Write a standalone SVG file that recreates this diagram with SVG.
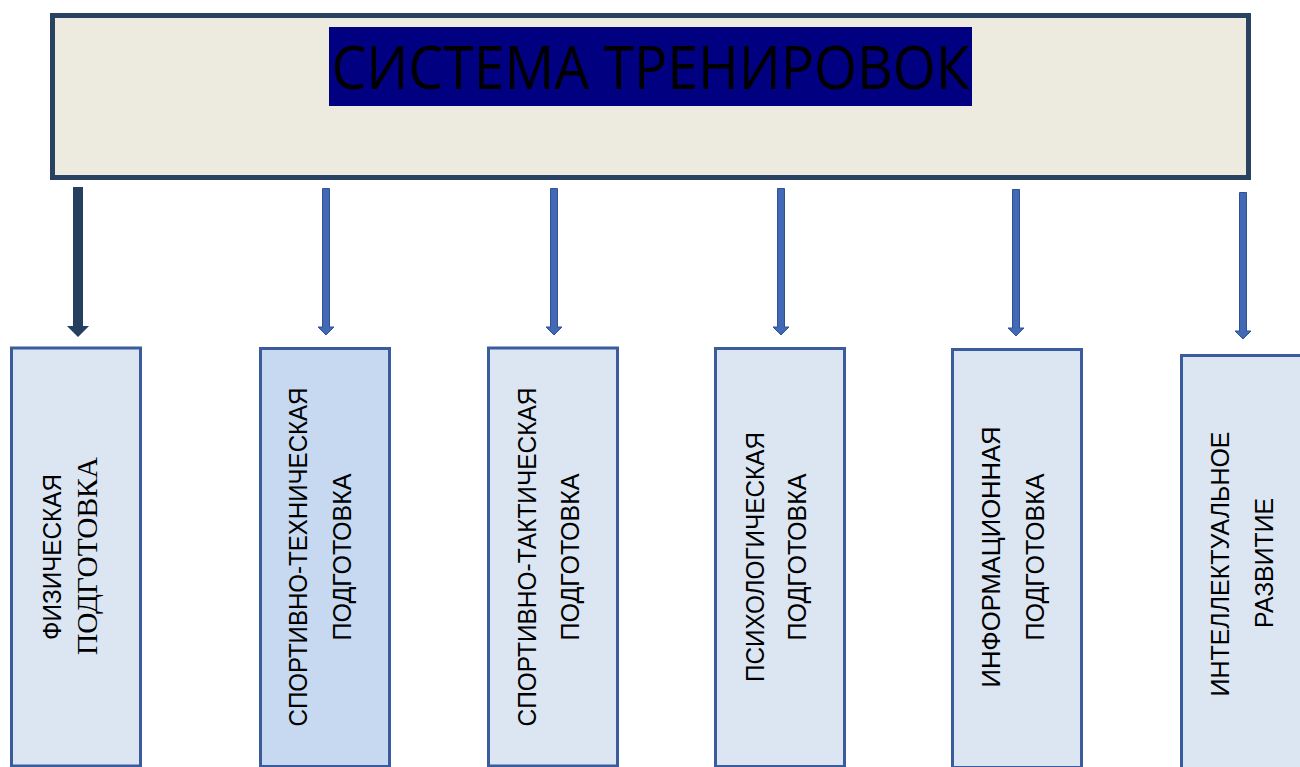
<svg xmlns="http://www.w3.org/2000/svg" width="1300" height="767" viewBox="0 0 1300 767">
<style>
.box{fill:#DCE6F2;stroke:#3A5C9C;stroke-width:3}
.box2{fill:#C6D9F1}
.lbl{font-family:"Liberation Sans",Arial,sans-serif;font-size:25px;fill:#000}
.ser{font-family:"Liberation Serif","Times New Roman",serif;font-size:29px;fill:#000}
.arr{fill:#4169B5;stroke:#2F5192;stroke-width:1}
</style>
<rect width="1300" height="767" fill="#fff"/>
<g id="top">
<rect x="52.5" y="15.5" width="1196" height="162" fill="#EDEBE0" stroke="#2A4262" stroke-width="5"/>
<rect x="329" y="27" width="643" height="79" fill="#000080"/>
<text x="650.5" y="89" text-anchor="middle" font-family="'Open Sans','Noto Sans',sans-serif" font-size="60" fill="#000" textLength="638" lengthAdjust="spacingAndGlyphs">СИСТЕМА ТРЕНИРОВОК</text>
</g>
<g id="connectors">
<polygon points="73,187 83,187 83,326 89,326 78,337 67,326 73,326" fill="#243F60"/>
<polygon class="arr" points="322.5,188.5 329.5,188.5 329.5,327 334,327 326,335 318,327 322.5,327"/>
<polygon class="arr" points="550.5,188.5 557.5,188.5 557.5,327 562,327 554,335 546,327 550.5,327"/>
<polygon class="arr" points="777.5,188.5 784.5,188.5 784.5,327 789,327 781,335 773,327 777.5,327"/>
<polygon class="arr" points="1012.5,189.5 1019.5,189.5 1019.5,328 1024,328 1016,336 1008,328 1012.5,328"/>
<polygon class="arr" points="1239.5,192.5 1246.5,192.5 1246.5,331 1251,331 1243,339 1235,331 1239.5,331"/>
</g>
<g id="n1">
<rect class="box" x="11.5" y="348" width="129" height="418"/>
<text class="lbl" transform="translate(52,557) rotate(-90)" y="9" text-anchor="middle" textLength="166" lengthAdjust="spacingAndGlyphs">ФИЗИЧЕСКАЯ</text>
<text class="ser" transform="translate(87,556) rotate(-90)" y="10" text-anchor="middle" textLength="198" lengthAdjust="spacingAndGlyphs">ПОДГОТОВКА</text>
</g>
<g id="n2">
<rect class="box box2" x="260.5" y="348.5" width="129" height="418"/>
<text class="lbl" transform="translate(298,557) rotate(-90)" y="9" text-anchor="middle" textLength="339" lengthAdjust="spacingAndGlyphs">СПОРТИВНО-ТЕХНИЧЕСКАЯ</text>
<text class="lbl" transform="translate(342,557) rotate(-90)" y="9" text-anchor="middle" textLength="167" lengthAdjust="spacingAndGlyphs">ПОДГОТОВКА</text>
</g>
<g id="n3">
<rect class="box" x="488.5" y="348" width="129" height="418"/>
<text class="lbl" transform="translate(527,557) rotate(-90)" y="9" text-anchor="middle" textLength="339" lengthAdjust="spacingAndGlyphs">СПОРТИВНО-ТАКТИЧЕСКАЯ</text>
<text class="lbl" transform="translate(570,557) rotate(-90)" y="9" text-anchor="middle" textLength="167" lengthAdjust="spacingAndGlyphs">ПОДГОТОВКА</text>
</g>
<g id="n4">
<rect class="box" x="715.5" y="348.5" width="129" height="418"/>
<text class="lbl" transform="translate(755,557) rotate(-90)" y="9" text-anchor="middle" textLength="250" lengthAdjust="spacingAndGlyphs">ПСИХОЛОГИЧЕСКАЯ</text>
<text class="lbl" transform="translate(797,557) rotate(-90)" y="9" text-anchor="middle" textLength="167" lengthAdjust="spacingAndGlyphs">ПОДГОТОВКА</text>
</g>
<g id="n5">
<rect class="box" x="952.5" y="349.5" width="129" height="418"/>
<text class="lbl" transform="translate(991,557) rotate(-90)" y="9" text-anchor="middle" textLength="261" lengthAdjust="spacingAndGlyphs">ИНФОРМАЦИОННАЯ</text>
<text class="lbl" transform="translate(1035,557) rotate(-90)" y="9" text-anchor="middle" textLength="167" lengthAdjust="spacingAndGlyphs">ПОДГОТОВКА</text>
</g>
<g id="n6">
<rect class="box" x="1181.5" y="355.5" width="129" height="418"/>
<text class="lbl" transform="translate(1220,564) rotate(-90)" y="9" text-anchor="middle" textLength="265" lengthAdjust="spacingAndGlyphs">ИНТЕЛЛЕКТУАЛЬНОЕ</text>
<text class="lbl" transform="translate(1264,563) rotate(-90)" y="9" text-anchor="middle" textLength="130" lengthAdjust="spacingAndGlyphs">РАЗВИТИЕ</text>
</g>
</svg>
